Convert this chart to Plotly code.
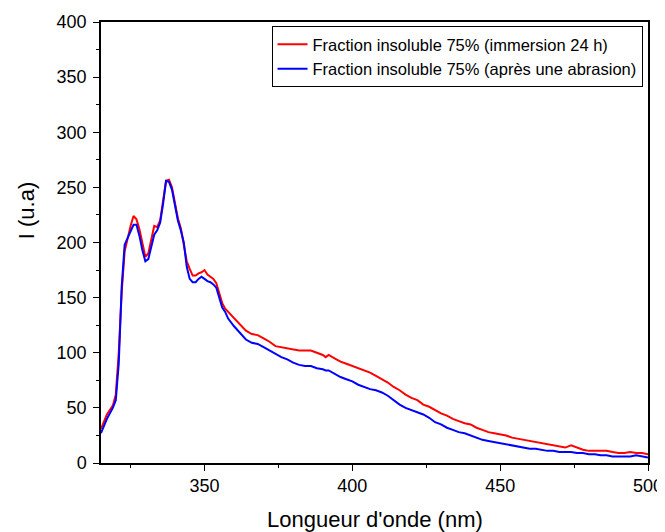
import plotly.graph_objects as go

wavelength = [315, 317, 319, 320, 321, 322, 323, 324, 325, 326, 327, 328, 329, 330, 331, 332, 333, 334, 335, 336,
              337, 338, 339, 340, 341, 342, 343, 344, 345, 346, 347, 348, 349, 350, 351, 352, 353, 354, 355, 356,
              357, 358, 360, 362, 364, 366, 368, 370, 372, 374, 376, 378, 380, 382, 384, 386, 388, 390, 391, 392,
              394, 396, 398, 400, 402, 404, 406, 408, 410, 412, 414, 416, 418, 420, 422, 424, 426, 428, 430, 432,
              434, 436, 438, 440, 442, 444, 446, 448, 450, 452, 454, 456, 458, 460, 462, 464, 466, 468, 470, 472,
              474, 476, 478, 480, 482, 484, 486, 488, 490, 492, 494, 496, 498, 500]

immersion_24h = [31, 44, 52, 62, 100, 155, 192, 205, 215, 224, 221, 212, 198, 187, 190, 204, 215, 214, 220, 238,
                 256, 257, 250, 236, 222, 213, 196, 183, 176, 170, 170, 172, 173, 175, 171, 169, 167, 163, 153, 145,
                 140, 137, 131, 125, 120, 117, 116, 113, 110, 106, 105, 104, 103, 102, 102, 102, 100, 98, 96, 98,
                 95, 92, 90, 88, 86, 84, 82, 79, 76, 73, 69, 66, 62, 59, 57, 53, 51, 48, 45, 43,
                 40, 38, 36, 35, 32, 30, 28, 27, 26, 25, 23, 22, 21, 20, 19, 18, 17, 16, 15, 14,
                 16, 14, 12, 11, 11, 11, 11, 10, 9, 9, 10, 9, 9, 8]

apres_abrasion = [27, 40, 50, 57, 90, 160, 198, 204, 210, 216, 216, 206, 193, 183, 185, 196, 207, 211, 218, 235,
                  256, 255, 248, 234, 220, 211, 200, 178, 167, 164, 164, 167, 169, 167, 165, 164, 162, 159, 150, 141,
                  137, 131, 124, 118, 112, 109, 108, 105, 102, 99, 96, 94, 91, 89, 88, 88, 86, 85, 84, 84,
                  81, 78, 76, 74, 71, 69, 67, 66, 64, 61, 57, 53, 50, 48, 46, 44, 41, 37, 35, 32,
                  30, 28, 27, 25, 23, 21, 20, 19, 18, 17, 16, 15, 14, 13, 13, 12, 11, 11, 10, 10,
                  10, 9, 9, 8, 8, 7, 7, 6, 6, 6, 6, 7, 6, 5]

series_names = ["Fraction insoluble 75% (immersion 24 h)",
                "Fraction insoluble 75% (après une abrasion)"]
x_ticks = [350, 400, 450, 500]
x_minor = [325, 375, 425, 475]
y_ticks = [0, 50, 100, 150, 200, 250, 300, 350, 400]
y_minor = [25, 75, 125, 175, 225, 275, 325, 375]
x_title = "Longueur d'onde (nm)"
y_title = "I (u.a)"

FONT = "Liberation Sans, Arial, sans-serif"

fig = go.Figure()
fig.add_trace(go.Scatter(x=wavelength, y=immersion_24h, mode="lines", name=series_names[0],
                         line=dict(color="#ff0000", width=2)))
fig.add_trace(go.Scatter(x=wavelength, y=apres_abrasion, mode="lines", name=series_names[1],
                         line=dict(color="#0000ff", width=2)))

# The page body has an 8px default margin, so the figure is sized to fit the 665x532 window.
fig.update_layout(
    width=657, height=524,
    margin=dict(l=93, r=17, t=14, b=69, autoexpand=False),
    paper_bgcolor="white", plot_bgcolor="white",
    font=dict(family=FONT, color="black", size=18),
    showlegend=True,
    legend=dict(x=0.99, xanchor="right", y=0.991, yanchor="top",
                bordercolor="black", borderwidth=1, bgcolor="white",
                font=dict(size=16.5, family=FONT), tracegroupgap=0,
                itemwidth=30),
    annotations=[
        dict(text=x_title, xref="paper", yref="paper", x=0.5, y=-0.129, xanchor="center", yanchor="middle",
             showarrow=False, font=dict(size=22, family=FONT)),
        dict(text=y_title, xref="paper", yref="paper", x=-0.137, y=0.571, xanchor="center", yanchor="middle",
             textangle=-90, showarrow=False, font=dict(size=22, family=FONT)),
    ],
)
fig.update_xaxes(range=[315, 500], tickvals=x_ticks, ticks="outside", ticklen=6, tickwidth=1,
                 tickcolor="black", showline=True, linecolor="black", linewidth=1.5, mirror=True,
                 showgrid=False, zeroline=False, automargin=False,
                 minor=dict(tickvals=x_minor, ticks="outside", ticklen=3, tickcolor="black"),
                 tickfont=dict(size=18))
fig.update_yaxes(range=[0, 400], tickvals=y_ticks, ticks="outside", ticklen=6, tickwidth=1,
                 tickcolor="black", showline=True, linecolor="black", linewidth=1.5, mirror=True,
                 showgrid=False, zeroline=False, automargin=False, ticklabelstandoff=3,
                 minor=dict(tickvals=y_minor, ticks="outside", ticklen=3, tickcolor="black"),
                 tickfont=dict(size=18))

fig.write_html("out.html")
